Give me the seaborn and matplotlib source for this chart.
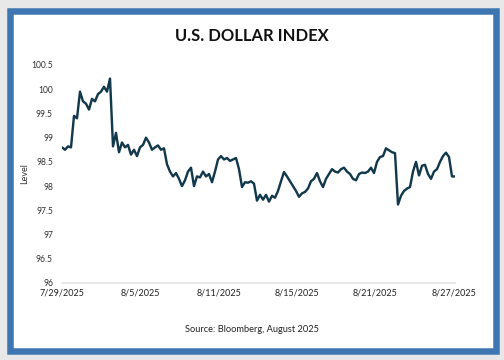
import numpy as np
import pandas as pd
import seaborn as sns
import matplotlib.pyplot as plt
from matplotlib.patches import Rectangle

# Dollar index level (roughly evenly spaced intraday points)
levels = [
    98.80, 98.75, 98.82, 98.80, 99.45, 99.40, 99.95, 99.75, 99.70, 99.58,
    99.80, 99.75, 99.90, 99.95, 100.05, 99.95, 100.22, 98.82, 99.10, 98.70,
    98.90, 98.80, 98.85, 98.65, 98.75, 98.62, 98.80, 98.85, 99.00, 98.90,
    98.75, 98.80, 98.84, 98.75, 98.78, 98.45, 98.30, 98.20, 98.27, 98.15,
    98.00, 98.12, 98.30, 98.38, 98.00, 98.20, 98.18, 98.30, 98.20, 98.25,
    98.08, 98.30, 98.55, 98.62, 98.55, 98.58, 98.52, 98.55, 98.58, 98.35,
    97.98, 98.08, 98.07, 98.10, 98.05, 97.70, 97.82, 97.72, 97.82, 97.68,
    97.80, 97.76, 97.90, 98.10, 98.29, 98.20, 98.10, 98.00, 97.90, 97.78,
    97.85, 97.88, 97.95, 98.10, 98.15, 98.27, 98.10, 97.98, 98.15, 98.25,
    98.35, 98.30, 98.28, 98.35, 98.38, 98.30, 98.25, 98.15, 98.12, 98.25,
    98.28, 98.27, 98.30, 98.38, 98.27, 98.50, 98.60, 98.62, 98.78, 98.74,
    98.70, 98.68, 97.62, 97.80, 97.90, 97.95, 97.98, 98.30, 98.50, 98.22,
    98.42, 98.44, 98.25, 98.15, 98.30, 98.35, 98.50, 98.62, 98.69, 98.60,
    98.20, 98.20,
]
date_labels = ['7/29/2025', '8/5/2025', '8/11/2025', '8/15/2025', '8/21/2025', '8/27/2025']
y_ticks = [96, 96.5, 97, 97.5, 98, 98.5, 99, 99.5, 100, 100.5]
y_tick_labels = ['96', '96.5', '97', '97.5', '98', '98.5', '99', '99.5', '100', '100.5']

df = pd.DataFrame({'step': np.arange(len(levels)), 'Level': levels})

sns.set_style('white')
plt.rcParams['font.family'] = ['Lato', 'DejaVu Sans']

fig = plt.figure(figsize=(7, 5), dpi=72, facecolor='#e8e8e8')

# blue frame around the white card, kept behind the axes
fig.patches.append(Rectangle((9.5 / 504, 9.5 / 360), 486 / 504, 340 / 360,
                             transform=fig.transFigure, facecolor='white',
                             edgecolor='#3d76b0', linewidth=6.5, zorder=-5))

ax = fig.add_axes([62 / 504, 1 - 283 / 360, 393 / 504, 218 / 360])
ax.set_facecolor('none')
ax.set_zorder(5)
sns.lineplot(data=df, x='step', y='Level', color='#12384c', linewidth=2.4, ax=ax)

ax.set_xlim(0, len(levels) - 1)
ax.set_ylim(96, 100.5)
tick_pos = np.linspace(0, len(levels) - 1.5, len(date_labels))
ax.set_xticks(tick_pos)
ax.set_xticklabels(date_labels, fontsize=9, color='#222222')
ax.set_yticks(y_ticks)
ax.set_yticklabels(y_tick_labels, fontsize=8.5, color='#333333')
ax.tick_params(axis='both', length=0)
ax.tick_params(axis='x', pad=6)
ax.tick_params(axis='y', pad=9)
ax.set_xlabel('')
ax.set_ylabel('Level', fontsize=9, color='#333333', labelpad=2)

for side in ['top', 'right', 'left']:
    ax.spines[side].set_visible(False)
ax.spines['bottom'].set_color('#e0e0e0')
ax.spines['bottom'].set_linewidth(1.5)

fig.text(252 / 504, 1 - 36 / 360, 'U.S. DOLLAR INDEX', ha='center', va='center',
         fontsize=16.5, fontweight='bold', color='#111111')
fig.text(252 / 504, 1 - 329 / 360, 'Source: Bloomberg, August 2025', ha='center',
         va='center', fontsize=9.3, color='#222222')

fig.savefig('out.png', dpi=72, facecolor=fig.get_facecolor())
